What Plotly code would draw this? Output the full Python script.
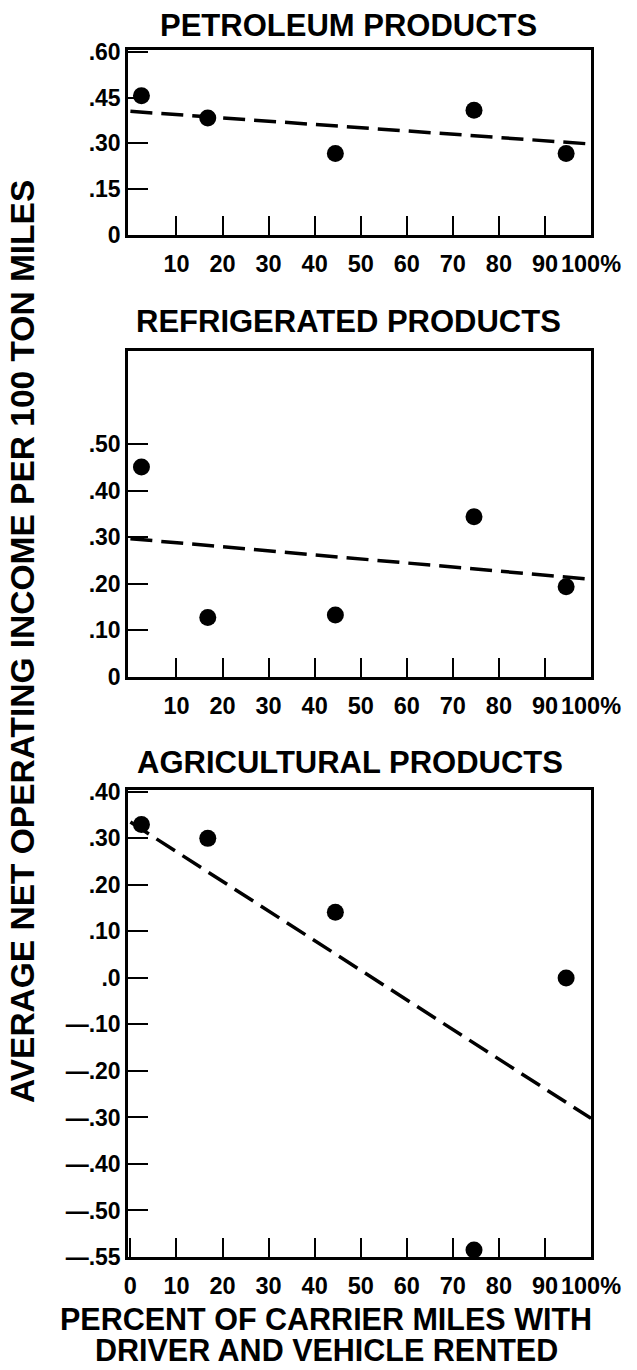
import plotly.graph_objects as go

# ---------------- data ----------------
x_pct = [2.4, 16.8, 44.5, 74.6, 94.6]
petroleum = [0.456, 0.383, 0.267, 0.409, 0.267]
refrigerated = [0.451, 0.128, 0.133, 0.344, 0.194]
agricultural = [0.330, 0.300, 0.141, -0.585, 0.000]

trend_x = [0, 100]
petroleum_trend = [0.405, 0.298]
refrigerated_trend = [0.297, 0.210]
agricultural_trend = [0.335, -0.302]

panel_titles = ["PETROLEUM PRODUCTS", "REFRIGERATED PRODUCTS", "AGRICULTURAL PRODUCTS"]

x_tickvals = [0, 10, 20, 30, 40, 50, 60, 70, 80, 90, 100]
x_ticktext = ["0", "10", "20", "30", "40", "50", "60", "70", "80", "90", "100%"]

petroleum_yticks = [0, 0.15, 0.30, 0.45, 0.60]
petroleum_ytext = ["0", ".15", ".30", ".45", ".60"]
refrigerated_yticks = [0, 0.10, 0.20, 0.30, 0.40, 0.50]
refrigerated_ytext = ["0", ".10", ".20", ".30", ".40", ".50"]
agricultural_yticks = [0.40, 0.30, 0.20, 0.10, 0.0, -0.10, -0.20, -0.30, -0.40, -0.50, -0.60]
agricultural_ytext = [".40", ".30", ".20", ".10", ".0", "\u2014.10", "\u2014.20", "\u2014.30",
                      "\u2014.40", "\u2014.50", "\u2014.55"]

y_title = "AVERAGE NET OPERATING INCOME PER 100 TON MILES"
x_title_lines = ["PERCENT OF CARRIER MILES WITH", "DRIVER AND VEHICLE RENTED"]

# ---------------- layout helpers ----------------
W, H = 637, 1370
FONT = "Liberation Sans, Arial, sans-serif"


def px_x(p):
    return p / W


def px_y(p):
    return 1 - p / H


x_dom = [px_x(128), px_x(591)]
y_doms = [
    [px_y(235), px_y(50)],
    [px_y(677), px_y(351)],
    [px_y(1257), px_y(790)],
]
y_ranges = [[0, 0.606], [0, 0.70], [-0.60, 0.404]]

fig = go.Figure()

series = [petroleum, refrigerated, agricultural]
trends = [petroleum_trend, refrigerated_trend, agricultural_trend]

for i in range(3):
    xa = "x" if i == 0 else f"x{i+1}"
    ya = "y" if i == 0 else f"y{i+1}"
    fig.add_trace(go.Scatter(
        x=trend_x, y=trends[i], mode="lines", xaxis=xa, yaxis=ya,
        line=dict(color="black", width=3.5, dash="22px,9px"),
        showlegend=False, hoverinfo="skip"))
    fig.add_trace(go.Scatter(
        x=x_pct, y=series[i], mode="markers", xaxis=xa, yaxis=ya,
        marker=dict(color="black", size=17),
        showlegend=False, cliponaxis=False))

ytick_sets = [(petroleum_yticks, petroleum_ytext),
              (refrigerated_yticks, refrigerated_ytext),
              (agricultural_yticks, agricultural_ytext)]

layout = dict(
    width=W, height=H, autosize=False,
    margin=dict(l=0, r=0, t=0, b=0, pad=0),
    paper_bgcolor="white", plot_bgcolor="white",
    font=dict(family=FONT, color="black"),
)

for i in range(3):
    xk = "xaxis" if i == 0 else f"xaxis{i+1}"
    yk = "yaxis" if i == 0 else f"yaxis{i+1}"
    ya = "y" if i == 0 else f"y{i+1}"
    xa = "x" if i == 0 else f"x{i+1}"
    if i < 2:
        tv, tt = x_tickvals[1:], x_ticktext[1:]
    else:
        tv, tt = x_tickvals, x_ticktext
    layout[xk] = dict(
        domain=x_dom, anchor=ya, range=[-0.52, 100], automargin=False,
        tickvals=tv, ticktext=tt, tickangle=0,
        showline=True, linecolor="black", linewidth=2.5, mirror=True,
        ticks="inside", ticklen=19, tickwidth=2, tickcolor="black",
        showgrid=False, zeroline=False,
        tickfont=dict(family=FONT, size=23.5, color="black", weight="bold"),
        ticklabelstandoff=6,
    )
    yv, ytx = ytick_sets[i]
    layout[yk] = dict(
        domain=y_doms[i], anchor=xa, range=y_ranges[i], automargin=False,
        tickvals=yv, ticktext=ytx, tickangle=0,
        showline=True, linecolor="black", linewidth=2.5, mirror=True,
        ticks="inside", ticklen=20, tickwidth=2, tickcolor="black",
        showgrid=False, zeroline=False,
        tickfont=dict(family=FONT, size=23, color="black", weight="bold"),
        ticklabelstandoff=0,
    )

fig.update_layout(**layout)

title_pos = [(348.5, 25), (348.5, 321), (350, 762)]
annotations = []
for t, (cx, cy) in zip(panel_titles, title_pos):
    annotations.append(dict(
        text=t, x=px_x(cx), y=px_y(cy), xref="paper", yref="paper",
        xanchor="center", yanchor="middle", showarrow=False,
        font=dict(family=FONT, size=31, color="black", weight="bold")))

annotations.append(dict(
    text=y_title, x=px_x(22), y=px_y(642), xref="paper", yref="paper",
    xanchor="center", yanchor="middle", showarrow=False, textangle=-90,
    font=dict(family=FONT, size=33.5, color="black", weight="bold")))

for line, cy in zip(x_title_lines, [1319, 1350]):
    annotations.append(dict(
        text=line, x=px_x(326), y=px_y(cy), xref="paper", yref="paper",
        xanchor="center", yanchor="middle", showarrow=False,
        font=dict(family=FONT, size=30.5, color="black", weight="bold")))

fig.update_layout(annotations=annotations)

fig.write_html("out.html")
